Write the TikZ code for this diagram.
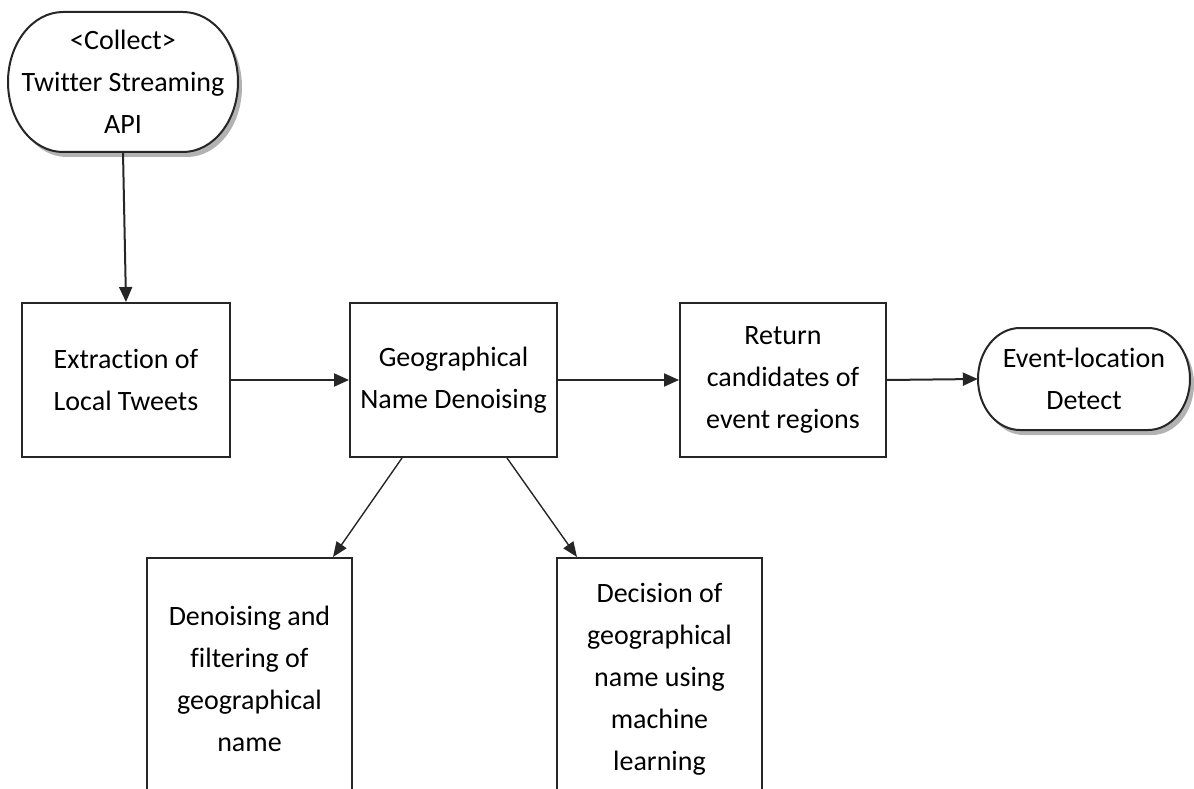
\documentclass[tikz,border=0pt]{standalone}
\usepackage{fontspec}
\setmainfont{Carlito}[Ligatures={NoCommon}]
\usetikzlibrary{arrows.meta}
\begin{document}
\begin{tikzpicture}[x=1pt,y=-1pt,
  font=\fontsize{28}{42}\selectfont,
  boxst/.style={draw=black!85,line width=2pt,fill=white,align=center,inner sep=0pt},
  termtxt/.style={align=center,inner sep=0pt},
  conn/.style={line width=2pt,draw=black!85,-{Triangle[length=15pt,width=13pt]}},
  diag/.style={line width=1.4pt,draw=black!85,-{Triangle[length=15pt,width=12pt]}},
  termline/.style={draw=black!85,line width=2pt,fill=white},
  shad/.style={fill=black!30,draw=none}]
\useasboundingbox (0,0) rectangle (1194,789);
\clip (0,0) rectangle (1194,789);
% top terminal
\begin{scope}[shift={(4,5)}]
\fill[shad] (63,12) -- (183,12) .. controls (213.4,12) and (238,43.4) .. (238,82) .. controls (238,120.6) and (213.4,152) .. (183,152) -- (63,152) .. controls (32.6,152) and (8,120.6) .. (8,82) .. controls (8,43.4) and (32.6,12) .. (63,12) -- cycle;
\end{scope}
\path[termline] (63,12) -- (183,12) .. controls (213.4,12) and (238,43.4) .. (238,82) .. controls (238,120.6) and (213.4,152) .. (183,152) -- (63,152) .. controls (32.6,152) and (8,120.6) .. (8,82) .. controls (8,43.4) and (32.6,12) .. (63,12) -- cycle;
\node[termtxt,minimum width=230pt,minimum height=140pt] (top) at (123,82) {<Collect>\\Twitter Streaming\\API};
% right terminal
\begin{scope}[shift={(4,5)}]
\fill[shad] (1020,328) -- (1148,328) .. controls (1171.2,328) and (1190,350.8) .. (1190,379) .. controls (1190,407.2) and (1171.2,430) .. (1148,430) -- (1020,430) .. controls (996.8,430) and (978,407.2) .. (978,379) .. controls (978,350.8) and (996.8,328) .. (1020,328) -- cycle;
\end{scope}
\path[termline] (1020,328) -- (1148,328) .. controls (1171.2,328) and (1190,350.8) .. (1190,379) .. controls (1190,407.2) and (1171.2,430) .. (1148,430) -- (1020,430) .. controls (996.8,430) and (978,407.2) .. (978,379) .. controls (978,350.8) and (996.8,328) .. (1020,328) -- cycle;
\node[termtxt,minimum width=212pt,minimum height=102pt] (det) at (1084,379) {Event-location\\Detect};
% boxes
\node[boxst,minimum width=208pt,minimum height=154pt] (ext) at (126,380) {Extraction of\\Local Tweets};
\node[boxst,minimum width=207pt,minimum height=154pt] (geo) at (453.5,380) {Geographical\\Name Denoising};
\node[boxst,minimum width=206pt,minimum height=154pt] (ret) at (783,380) {Return\\candidates of\\event regions};
\node[boxst,minimum width=205pt,minimum height=242pt] (dl) at (249.5,679) {Denoising and\\filtering of\\geographical\\name};
\node[boxst,minimum width=205pt,minimum height=242pt] (dr) at (659.5,679) {Decision of\\geographical\\name using\\machine\\learning};
% connectors
\draw[conn] (top.south) -- (ext.north);
\draw[conn] (ext.east) -- (geo.west);
\draw[conn] (geo.east) -- (ret.west);
\draw[conn] (ret.east) -- (det.west);
\draw[diag] ([xshift=-51.5pt]geo.south) -- ([xshift=83.5pt]dl.north);
\draw[diag] ([xshift=53.5pt]geo.south) -- ([xshift=-82.5pt]dr.north);
\end{tikzpicture}
\end{document}
